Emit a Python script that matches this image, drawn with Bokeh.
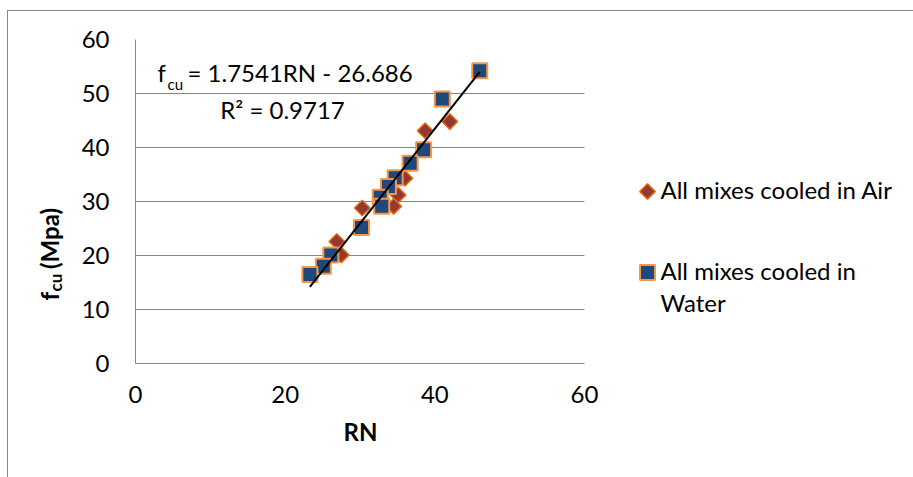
import math
from bokeh.plotting import figure
from bokeh.models import Range1d, Label, FixedTicker, Title, Grid
from bokeh.embed import file_html
from bokeh.resources import INLINE

# ---- data ----
air_rn = [42.0, 38.7, 36.0, 35.1, 34.5, 30.3, 26.9, 27.5]
air_fcu = [44.8, 43.1, 34.3, 31.2, 29.1, 28.8, 22.6, 20.1]
water_rn = [46.0, 41.0, 38.5, 36.7, 34.7, 33.8, 32.7, 32.9, 30.2, 26.1, 25.1, 23.3]
water_fcu = [54.2, 49.0, 39.6, 37.1, 34.4, 32.8, 30.8, 29.1, 25.2, 20.1, 18.0, 16.5]
slope, intercept = 1.7541, -26.686
x_ticks = [0, 20, 40, 60]
y_ticks = [0, 10, 20, 30, 40, 50, 60]
eq_rest = "= 1.7541RN - 26.686"
r2_text = "R² = 0.9717"
x_title = "RN"
y_title_main = "f\u00a0\u00a0\u00a0\u00a0(Mpa)"
y_title_sub = "cu"
legend_air = "All mixes cooled in Air"
legend_water_1 = "All mixes cooled in"
legend_water_2 = "Water"

FONT = "Lato"
GRAY = "#868686"
AIR_STYLE = dict(marker="square", angle=math.pi / 4, size=11,
                 fill_color="#953735", line_color="#E46C0A", line_width=1.5)
WATER_STYLE = dict(marker="square", size=15,
                   fill_color="#1F497D", line_color="#F79646", line_width=2)

# page-pixel geometry
OFFX, OFFY = 7, 10
W, H = 913 - OFFX, 477 - OFFY
PX0, PX60 = 134, 583          # x = 0 and x = 60
PY0, PY60 = 362, 38           # y = 0 and y = 60
FRAME_R = OFFX + W            # frame runs to the right edge
XS = (PX60 - PX0) / 60.0
YS = (PY0 - PY60) / 60.0
def dx(px):
    return (px - PX0) / XS
def dy(py):
    return (PY0 - py) / YS

p = figure(width=W, height=H, output_backend="svg", toolbar_location=None,
           x_range=Range1d(0, dx(FRAME_R)), y_range=Range1d(0, 60),
           min_border_left=PX0 - OFFX, min_border_right=0,
           min_border_top=PY60 - OFFY, min_border_bottom=H - (PY0 - OFFY),
           margin=(OFFY, 0, 0, OFFX),
           styles={"border-left": "1px solid " + GRAY, "border-top": "1px solid " + GRAY})
p.outline_line_color = None
p.background_fill_color = "white"
p.border_fill_color = "white"

p.xgrid.grid_line_color = None
p.ygrid.ticker = FixedTicker(ticks=y_ticks)
if "cross_bounds" in Grid.properties():
    p.ygrid.grid_line_color = GRAY
    p.ygrid.grid_line_width = 1
    p.ygrid.cross_bounds = (x_ticks[0], x_ticks[-1])
else:
    p.ygrid.grid_line_color = None
    n = len(y_ticks)
    p.segment(x0=[x_ticks[0]] * n, y0=y_ticks, x1=[x_ticks[-1]] * n, y1=y_ticks,
              line_color=GRAY, line_width=1)

for ax in (p.xaxis, p.yaxis):
    ax.axis_line_color = GRAY
    ax.axis_line_width = 1
    ax.major_tick_out = 0
    ax.major_tick_in = 0
    ax.minor_tick_out = 0
    ax.minor_tick_in = 0
    ax.major_label_text_font = FONT
    ax.major_label_text_font_size = "24px"
    ax.major_label_text_color = "black"
p.xaxis.ticker = FixedTicker(ticks=x_ticks)
p.yaxis.ticker = FixedTicker(ticks=y_ticks)
p.xaxis.bounds = (x_ticks[0], x_ticks[-1])
p.yaxis.major_label_standoff = 26
p.xaxis.major_label_standoff = 22

air = p.scatter(air_rn, air_fcu, **AIR_STYLE)
water = p.scatter(water_rn, water_fcu, **WATER_STYLE)

all_x = air_rn + water_rn
xs = [min(all_x), max(all_x)]
p.line(xs, [slope * v + intercept for v in xs], line_color="black", line_width=2)

# texts inside the frame (py = visual baseline on the page)
def lab(text, px, py, size="24px", align="left", style="normal"):
    return Label(x=dx(px), y=dy(py - 9), text=text, text_font=FONT, text_font_size=size,
                 text_align=align, text_baseline="alphabetic", text_font_style=style,
                 text_color="black")

p.add_layout(lab("f", 156, 80))
p.add_layout(lab("cu", 166, 91, size="15px"))
p.add_layout(lab(eq_rest, 186, 80))
p.add_layout(lab(r2_text, 281, 117, align="center"))

# axis titles built from side-panel titles
def side_title(text, size, offset, valign, standoff):
    return Title(text=text, text_font=FONT, text_font_size=size, text_font_style="bold",
                 text_color="black", align="left", vertical_align=valign,
                 offset=offset, standoff=standoff)

p.add_layout(side_title("\u00a0", "1px", 0, "bottom", 16.8), "left")
p.add_layout(side_title(y_title_sub, "17px", 72, "middle", -17.3), "left")
p.add_layout(side_title(y_title_main, "24px", 63, "bottom", -22.4), "left")
p.add_layout(side_title(x_title, "24px", 342 - PX0, "top", 23), "below")

# legend: keys and texts
p.scatter([dx(646)], [dy(190)], **AIR_STYLE)
p.scatter([dx(646)], [dy(271)], **WATER_STYLE)
p.add_layout(lab(legend_air, 659, 197))
p.add_layout(lab(legend_water_1, 659, 278))
p.add_layout(lab(legend_water_2, 659, 310))

open("out.html", "w").write(file_html(p, INLINE))
